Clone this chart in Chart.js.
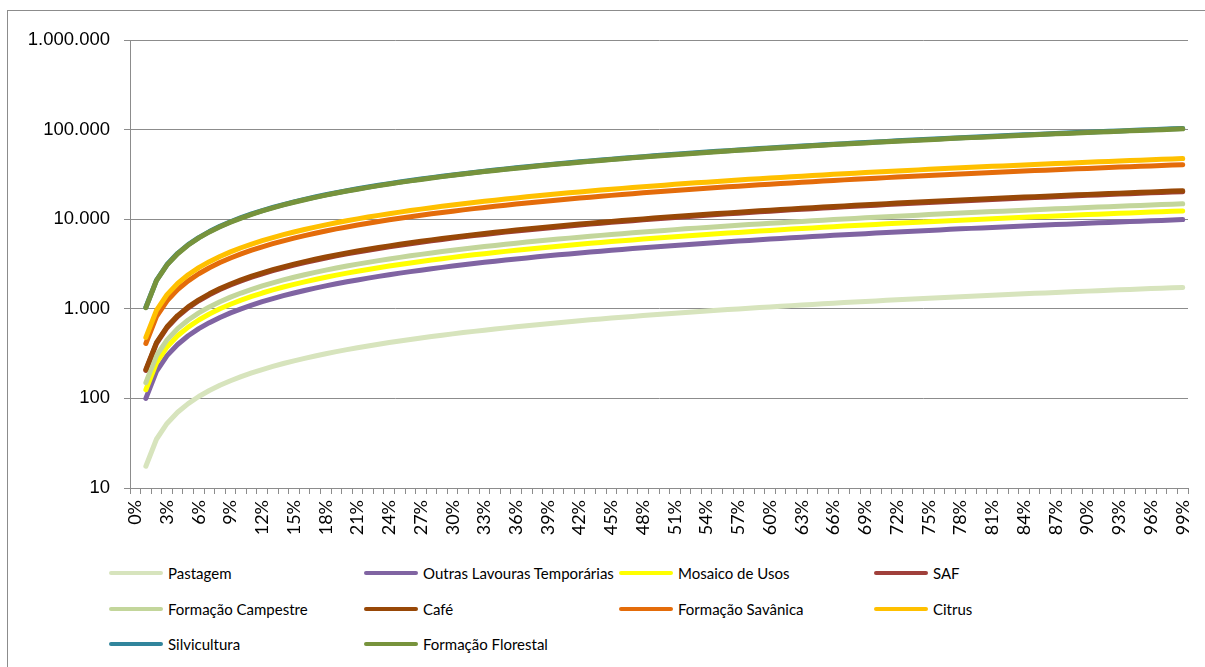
<!DOCTYPE html>
<html>
<head>
<meta charset="utf-8">
<script src="https://cdn.jsdelivr.net/npm/chart.js@4"></script>
<style>
  body { margin: 0; width: 1205px; height: 667px; overflow: hidden; background: #fff; position: relative; }
  #frame { position: absolute; left: 7px; top: 10px; width: 1300px; height: 800px; border: 1px solid #8c8c8c; box-sizing: border-box; }
  #chart { position: absolute; left: 0; top: 0; }
  #legend { position: absolute; left: 109px; top: 562px; display: grid; grid-template-columns: repeat(4, 255px); grid-auto-rows: 35.5px;
            font-family: "Lato", "Open Sans", sans-serif; font-size: 15px; color: #000; }
  .item { display: flex; align-items: center; height: 22px; white-space: nowrap; }
  .swatch { width: 54px; height: 4px; border-radius: 2px; margin-right: 5px; flex: none; }
</style>
</head>
<body>
<div id="frame"></div>
<canvas id="chart" width="1205" height="540"></canvas>
<div id="legend"></div>
<script>
console.log("Loaded chart");

let categories = ['0%','1%','2%','3%','4%','5%','6%','7%','8%','9%',
  '10%','11%','12%','13%','14%','15%','16%','17%','18%','19%',
  '20%','21%','22%','23%','24%','25%','26%','27%','28%','29%',
  '30%','31%','32%','33%','34%','35%','36%','37%','38%','39%',
  '40%','41%','42%','43%','44%','45%','46%','47%','48%','49%',
  '50%','51%','52%','53%','54%','55%','56%','57%','58%','59%',
  '60%','61%','62%','63%','64%','65%','66%','67%','68%','69%',
  '70%','71%','72%','73%','74%','75%','76%','77%','78%','79%',
  '80%','81%','82%','83%','84%','85%','86%','87%','88%','89%',
  '90%','91%','92%','93%','94%','95%','96%','97%','98%','99%'];

let yTicks = [10, 100, 1000, 10000, 100000, 1000000];
let yTickLabels = ['10', '100', '1.000', '10.000', '100.000', '1.000.000'];

let pastagem = [null,
  17.5,35,52.5,70,87.5,105,122.5,140,157.5,175,
  192.5,210,227.5,245,262.5,280,297.5,315,332.5,350,
  367.5,385,402.5,420,437.5,455,472.5,490,507.5,525,
  542.5,560,577.5,595,612.5,630,647.5,665,682.5,700,
  717.5,735,752.5,770,787.5,805,822.5,840,857.5,875,
  892.5,910,927.5,945,962.5,980,997.5,1015,1032.5,1050,
  1067.5,1085,1102.5,1120,1137.5,1155,1172.5,1190,1207.5,1225,
  1242.5,1260,1277.5,1295,1312.5,1330,1347.5,1365,1382.5,1400,
  1417.5,1435,1452.5,1470,1487.5,1505,1522.5,1540,1557.5,1575,
  1592.5,1610,1627.5,1645,1662.5,1680,1697.5,1715,1732.5];

let outrasLavouras = [null,
  100,200,300,400,500,600,700,800,900,1000,
  1100,1200,1300,1400,1500,1600,1700,1800,1900,2000,
  2100,2200,2300,2400,2500,2600,2700,2800,2900,3000,
  3100,3200,3300,3400,3500,3600,3700,3800,3900,4000,
  4100,4200,4300,4400,4500,4600,4700,4800,4900,5000,
  5100,5200,5300,5400,5500,5600,5700,5800,5900,6000,
  6100,6200,6300,6400,6500,6600,6700,6800,6900,7000,
  7100,7200,7300,7400,7500,7600,7700,7800,7900,8000,
  8100,8200,8300,8400,8500,8600,8700,8800,8900,9000,
  9100,9200,9300,9400,9500,9600,9700,9800,9900];

let mosaico = [null,
  125,250,375,500,625,750,875,1000,1125,1250,
  1375,1500,1625,1750,1875,2000,2125,2250,2375,2500,
  2625,2750,2875,3000,3125,3250,3375,3500,3625,3750,
  3875,4000,4125,4250,4375,4500,4625,4750,4875,5000,
  5125,5250,5375,5500,5625,5750,5875,6000,6125,6250,
  6375,6500,6625,6750,6875,7000,7125,7250,7375,7500,
  7625,7750,7875,8000,8125,8250,8375,8500,8625,8750,
  8875,9000,9125,9250,9375,9500,9625,9750,9875,10000,
  10125,10250,10375,10500,10625,10750,10875,11000,11125,11250,
  11375,11500,11625,11750,11875,12000,12125,12250,12375];

let saf = [null,
  205,410,615,820,1025,1230,1435,1640,1845,2050,
  2255,2460,2665,2870,3075,3280,3485,3690,3895,4100,
  4305,4510,4715,4920,5125,5330,5535,5740,5945,6150,
  6355,6560,6765,6970,7175,7380,7585,7790,7995,8200,
  8405,8610,8815,9020,9225,9430,9635,9840,10045,10250,
  10455,10660,10865,11070,11275,11480,11685,11890,12095,12300,
  12505,12710,12915,13120,13325,13530,13735,13940,14145,14350,
  14555,14760,14965,15170,15375,15580,15785,15990,16195,16400,
  16605,16810,17015,17220,17425,17630,17835,18040,18245,18450,
  18655,18860,19065,19270,19475,19680,19885,20090,20295];

let campestre = [null,
  150,300,450,600,750,900,1050,1200,1350,1500,
  1650,1800,1950,2100,2250,2400,2550,2700,2850,3000,
  3150,3300,3450,3600,3750,3900,4050,4200,4350,4500,
  4650,4800,4950,5100,5250,5400,5550,5700,5850,6000,
  6150,6300,6450,6600,6750,6900,7050,7200,7350,7500,
  7650,7800,7950,8100,8250,8400,8550,8700,8850,9000,
  9150,9300,9450,9600,9750,9900,10050,10200,10350,10500,
  10650,10800,10950,11100,11250,11400,11550,11700,11850,12000,
  12150,12300,12450,12600,12750,12900,13050,13200,13350,13500,
  13650,13800,13950,14100,14250,14400,14550,14700,14850];

let cafe = [null,
  210,420,630,840,1050,1260,1470,1680,1890,2100,
  2310,2520,2730,2940,3150,3360,3570,3780,3990,4200,
  4410,4620,4830,5040,5250,5460,5670,5880,6090,6300,
  6510,6720,6930,7140,7350,7560,7770,7980,8190,8400,
  8610,8820,9030,9240,9450,9660,9870,10080,10290,10500,
  10710,10920,11130,11340,11550,11760,11970,12180,12390,12600,
  12810,13020,13230,13440,13650,13860,14070,14280,14490,14700,
  14910,15120,15330,15540,15750,15960,16170,16380,16590,16800,
  17010,17220,17430,17640,17850,18060,18270,18480,18690,18900,
  19110,19320,19530,19740,19950,20160,20370,20580,20790];

let savanica = [null,
  410,820,1230,1640,2050,2460,2870,3280,3690,4100,
  4510,4920,5330,5740,6150,6560,6970,7380,7790,8200,
  8610,9020,9430,9840,10250,10660,11070,11480,11890,12300,
  12710,13120,13530,13940,14350,14760,15170,15580,15990,16400,
  16810,17220,17630,18040,18450,18860,19270,19680,20090,20500,
  20910,21320,21730,22140,22550,22960,23370,23780,24190,24600,
  25010,25420,25830,26240,26650,27060,27470,27880,28290,28700,
  29110,29520,29930,30340,30750,31160,31570,31980,32390,32800,
  33210,33620,34030,34440,34850,35260,35670,36080,36490,36900,
  37310,37720,38130,38540,38950,39360,39770,40180,40590];

let citrus = [null,
  480,960,1440,1920,2400,2880,3360,3840,4320,4800,
  5280,5760,6240,6720,7200,7680,8160,8640,9120,9600,
  10080,10560,11040,11520,12000,12480,12960,13440,13920,14400,
  14880,15360,15840,16320,16800,17280,17760,18240,18720,19200,
  19680,20160,20640,21120,21600,22080,22560,23040,23520,24000,
  24480,24960,25440,25920,26400,26880,27360,27840,28320,28800,
  29280,29760,30240,30720,31200,31680,32160,32640,33120,33600,
  34080,34560,35040,35520,36000,36480,36960,37440,37920,38400,
  38880,39360,39840,40320,40800,41280,41760,42240,42720,43200,
  43680,44160,44640,45120,45600,46080,46560,47040,47520];

let silvicultura = [null,
  1040,2080,3120,4160,5200,6240,7280,8320,9360,10400,
  11440,12480,13520,14560,15600,16640,17680,18720,19760,20800,
  21840,22880,23920,24960,26000,27040,28080,29120,30160,31200,
  32240,33280,34320,35360,36400,37440,38480,39520,40560,41600,
  42640,43680,44720,45760,46800,47840,48880,49920,50960,52000,
  53040,54080,55120,56160,57200,58240,59280,60320,61360,62400,
  63440,64480,65520,66560,67600,68640,69680,70720,71760,72800,
  73840,74880,75920,76960,78000,79040,80080,81120,82160,83200,
  84240,85280,86320,87360,88400,89440,90480,91520,92560,93600,
  94640,95680,96720,97760,98800,99840,100880,101920,102960];

let florestal = [null,
  1030,2060,3090,4120,5150,6180,7210,8240,9270,10300,
  11330,12360,13390,14420,15450,16480,17510,18540,19570,20600,
  21630,22660,23690,24720,25750,26780,27810,28840,29870,30900,
  31930,32960,33990,35020,36050,37080,38110,39140,40170,41200,
  42230,43260,44290,45320,46350,47380,48410,49440,50470,51500,
  52530,53560,54590,55620,56650,57680,58710,59740,60770,61800,
  62830,63860,64890,65920,66950,67980,69010,70040,71070,72100,
  73130,74160,75190,76220,77250,78280,79310,80340,81370,82400,
  83430,84460,85490,86520,87550,88580,89610,90640,91670,92700,
  93730,94760,95790,96820,97850,98880,99910,100940,101970];

let seriesNames = ['Pastagem', 'Outras Lavouras Temporárias', 'Mosaico de Usos', 'SAF',
  'Formação Campestre', 'Café', 'Formação Savânica', 'Citrus', 'Silvicultura', 'Formação Florestal'];
let seriesData = [pastagem, outrasLavouras, mosaico, saf, campestre, cafe, savanica, citrus, silvicultura, florestal];
let seriesColors = ['#D7E4BD', '#8064A2', '#FFFF00', '#A0403B', '#C3D69B', '#984807', '#E46C0A', '#FFC000', '#31859C', '#77933C'];

let datasets = [];
for (let i = 0; i < seriesNames.length; i++) {
    datasets.push({
        label: seriesNames[i],
        data: seriesData[i],
        borderColor: seriesColors[i],
        backgroundColor: seriesColors[i],
        borderWidth: 5,
        pointRadius: 0,
        tension: 0,
        borderCapStyle: 'round',
        borderJoinStyle: 'round',
        order: seriesNames.length - i   // later series painted on top, like the original
    });
}

let LineChart = new Chart('chart', {
    type: 'line',
    data: {
        labels: categories,
        datasets: datasets
    },
    options: {
        responsive: false,
        animation: false,
        layout: { padding: { top: 40, right: 17, left: 0, bottom: 0 } },
        plugins: {
            legend: { display: false },
            tooltip: { enabled: false }
        },
        scales: {
            x: {
                type: 'category',
                offset: true,
                grid: { display: true, offset: true, drawOnChartArea: false, color: '#8c8c8c', tickLength: 6 },
                border: { color: '#8c8c8c', width: 1 },
                ticks: {
                    autoSkip: false,
                    maxRotation: 90,
                    minRotation: 90,
                    padding: 6,
                    color: '#000',
                    font: { family: 'Lato', size: 18 },
                    callback: function (val, index) {
                        return index % 3 === 0 ? categories[index] : '';
                    }
                },
                afterFit: function (scale) {
                    scale.height = 52;
                    scale.paddingLeft = 0;
                    scale.paddingRight = 0;
                }
            },
            y: {
                type: 'logarithmic',
                min: 10,
                max: 1000000,
                grid: { color: '#8c8c8c', tickLength: 6 },
                border: { color: '#8c8c8c', width: 1 },
                ticks: {
                    padding: 14,
                    color: '#000',
                    font: { family: 'Liberation Sans', size: 18.5 },
                    callback: function (val) {
                        let k = yTicks.indexOf(val);
                        return k >= 0 ? yTickLabels[k] : '';
                    }
                },
                afterBuildTicks: function (scale) {
                    scale.ticks = yTicks.map(v => ({ value: v }));
                },
                afterFit: function (scale) { scale.width = 130; }
            }
        }
    }
});

// legend in four fixed columns, like the original
function addLegend() {
    let box = document.getElementById('legend');
    for (let i = 0; i < seriesNames.length; i++) {
        let item = document.createElement('div');
        item.className = 'item';
        let sw = document.createElement('span');
        sw.className = 'swatch';
        sw.style.background = seriesColors[i];
        let txt = document.createElement('span');
        txt.textContent = seriesNames[i];
        item.appendChild(sw);
        item.appendChild(txt);
        box.appendChild(item);
    }
}
addLegend();
</script>
</body>
</html>
